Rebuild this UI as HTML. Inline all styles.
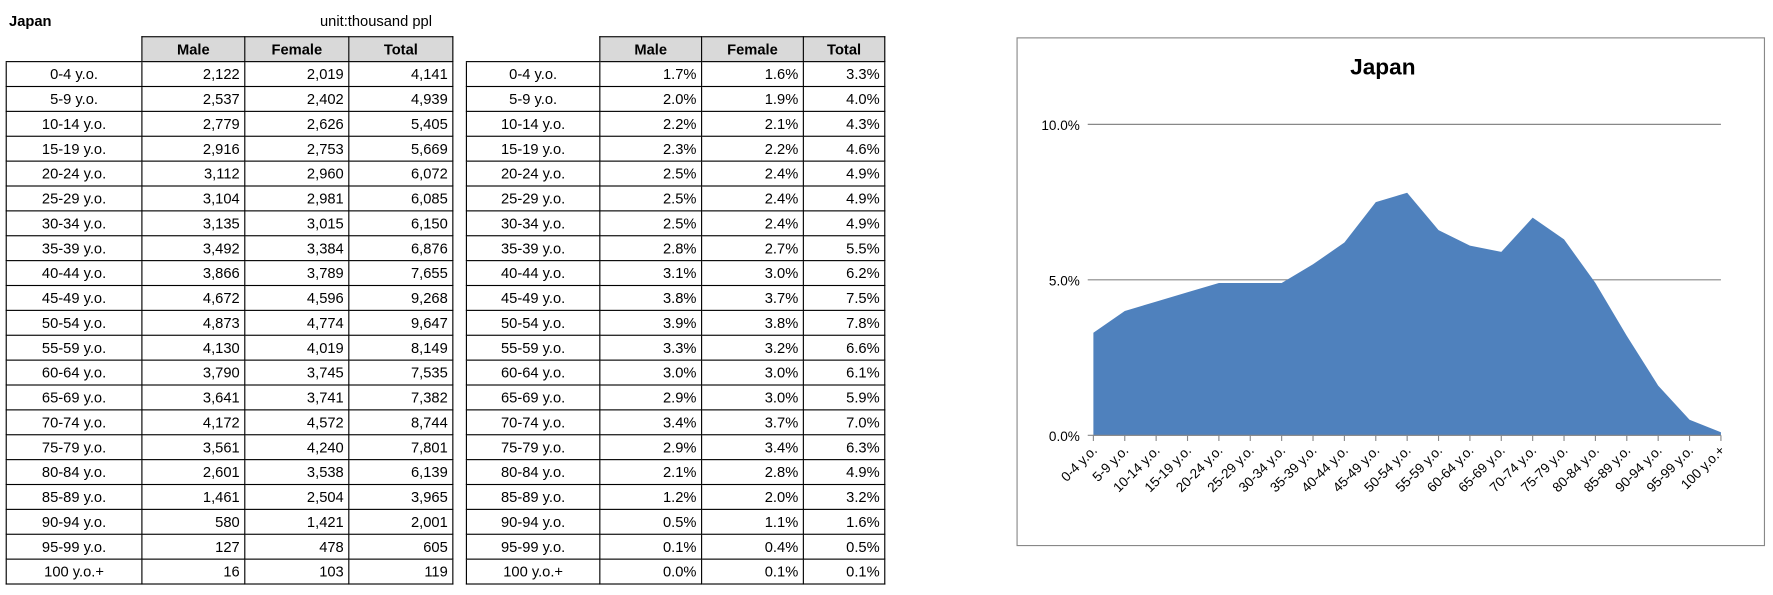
<!DOCTYPE html>
<html><head><meta charset="utf-8">
<style>
body{margin:0;width:1773px;height:595px;background:#fff;font-family:"Liberation Sans",sans-serif;overflow:hidden}
#w{position:absolute;left:0;top:0;width:1568px;height:526px;transform:scale(1.1307);transform-origin:0 0}
table{position:absolute;border-collapse:collapse;font-size:13px;color:#000}
td{border:1px solid #000;height:21px;padding:0 4px;text-align:right;box-sizing:border-box}
td.l{text-align:center}
tr.h td{background:#d9d9d9;font-weight:bold;text-align:center}
tr.h td.e{background:#fff;border:none;border-bottom:1px solid #000}
.t{position:absolute;font-size:13px}
</style></head><body>
<div id="w">
<div class="t" style="left:8px;top:11px;font-weight:bold">Japan</div>
<div class="t" style="left:283px;top:11px">unit:thousand ppl</div>
<table id="t1" style="left:5px;top:32px"></table>
<table id="t2" style="left:412px;top:32px"></table>
<svg id="c" style="position:absolute;left:0;top:0" width="1568" height="526"></svg>
</div>
<script>
var L=["0-4","5-9","10-14","15-19","20-24","25-29","30-34","35-39","40-44","45-49","50-54","55-59","60-64","65-69","70-74","75-79","80-84","85-89","90-94","95-99","100"];
var A=[["2,122","2,019","4,141"],["2,537","2,402","4,939"],["2,779","2,626","5,405"],["2,916","2,753","5,669"],["3,112","2,960","6,072"],["3,104","2,981","6,085"],["3,135","3,015","6,150"],["3,492","3,384","6,876"],["3,866","3,789","7,655"],["4,672","4,596","9,268"],["4,873","4,774","9,647"],["4,130","4,019","8,149"],["3,790","3,745","7,535"],["3,641","3,741","7,382"],["4,172","4,572","8,744"],["3,561","4,240","7,801"],["2,601","3,538","6,139"],["1,461","2,504","3,965"],["580","1,421","2,001"],["127","478","605"],["16","103","119"]];
var P=[[1.7,1.6,3.3],[2.0,1.9,4.0],[2.2,2.1,4.3],[2.3,2.2,4.6],[2.5,2.4,4.9],[2.5,2.4,4.9],[2.5,2.4,4.9],[2.8,2.7,5.5],[3.1,3.0,6.2],[3.8,3.7,7.5],[3.9,3.8,7.8],[3.3,3.2,6.6],[3.0,3.0,6.1],[2.9,3.0,5.9],[3.4,3.7,7.0],[2.9,3.4,6.3],[2.1,2.8,4.9],[1.2,2.0,3.2],[0.5,1.1,1.6],[0.1,0.4,0.5],[0.0,0.1,0.1]];
function lab(i){return i==20?"100 y.o.+":L[i]+" y.o.";}
function tbl(id,w,rows){var h='<tr class="h" style="height:22px"><td class="e" style="width:'+w[0]+'px"></td><td style="width:'+w[1]+'px">Male</td><td style="width:'+w[2]+'px">Female</td><td style="width:'+w[3]+'px">Total</td></tr>';
for(var i=0;i<21;i++){h+='<tr style="height:22px"><td class="l">'+lab(i)+'</td><td>'+rows[i][0]+'</td><td>'+rows[i][1]+'</td><td>'+rows[i][2]+'</td></tr>';}
document.getElementById(id).innerHTML=h;}
tbl("t1",[120,91,92,92],A);
tbl("t2",[118,90,90,72],P.map(function(r){return r.map(function(v){return v.toFixed(1)+"%";});}));
var s='<rect x="899.5" y="33.5" width="661" height="449" fill="#fff" stroke="#888"/>';
s+='<text x="1223" y="66" font-size="20" font-weight="bold" text-anchor="middle" font-family="Liberation Sans">Japan</text>';
var x0=967,x1=1522,y0=385,k=27.5,st=(x1-x0)/20;
[[0,"0.0%"],[5,"5.0%"],[10,"10.0%"]].forEach(function(g){var y=y0-g[0]*k;s+='<line x1="962" x2="'+x1+'" y1="'+y+'" y2="'+y+'" stroke="#888"/>';s+='<text x="955" y="'+(y+5)+'" font-size="12" text-anchor="end" font-family="Liberation Sans">'+g[1]+'</text>';});
var pts=x0+","+y0+" ";for(var i=0;i<21;i++)pts+=(x0+i*st)+","+(y0-P[i][2]*k)+" ";pts+=x1+","+y0;
s+='<polygon points="'+pts+'" fill="#4f81bd"/>';
s+='<line x1="'+x0+'" x2="'+x1+'" y1="'+y0+'" y2="'+y0+'" stroke="#888"/>';
for(var i=0;i<21;i++){var x=x0+i*st;s+='<line x1="'+x+'" x2="'+x+'" y1="'+y0+'" y2="'+(y0+5)+'" stroke="#888"/>';
s+='<text transform="translate('+(x+4)+','+(y0+14)+') rotate(-45)" font-size="12" text-anchor="end" font-family="Liberation Sans">'+lab(i)+'</text>';}
document.getElementById("c").innerHTML=s;
</script>
</body></html>
